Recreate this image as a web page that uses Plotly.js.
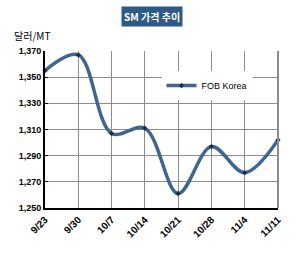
<!DOCTYPE html>
<html><head><meta charset="utf-8">
<script src="https://cdn.plot.ly/plotly-3.0.1.min.js"></script>
<style>html,body{margin:0;padding:0;background:#fff}#c{width:305px;height:253px}</style>
</head><body><div id="c"></div>
<script>
const categories = ['9/23','9/30','10/7','10/14','10/21','10/28','11/4','11/11'];
const fobKorea = [1355, 1367, 1307, 1311, 1261, 1297, 1277, 1302];
const yTicks = [1250, 1270, 1290, 1310, 1330, 1350, 1370];
const seriesName = 'FOB Korea';
const chartTitle = 'SM 가격 추이';
const yUnit = '달러/MT';

const trace = {
  x: categories, y: fobKorea, type: 'scatter', mode: 'lines+markers', name: seriesName,
  line: {color: '#3F6591', width: 3.5, shape: 'spline', smoothing: 1},
  marker: {symbol: 'diamond', size: 4, color: '#1E2E4A'},
  cliponaxis: false
};
const layout = {
  width: 305, height: 253,
  margin: {l: 45, r: 27, t: 51, b: 45},
  paper_bgcolor: '#fff', plot_bgcolor: '#fff',
  font: {family: 'Arial, Liberation Sans, sans-serif', size: 9, color: '#000'},
  showlegend: true,
  legend: {x: 0.5, y: 0.78, xanchor: 'left', yanchor: 'middle', bgcolor: '#fff',
    font: {size: 9, family: 'Arial, Liberation Sans, sans-serif'}, itemwidth: 30},
  xaxis: {type: 'category', range: [0, 7], tickangle: -45,
    tickfont: {size: 10, family: 'Arial, sans-serif', weight: 'bold'},
    showgrid: true, gridcolor: '#8c8c8c', gridwidth: 1,
    showline: true, linecolor: '#000', linewidth: 2, ticks: '', mirror: false, zeroline: false},
  yaxis: {range: [1250, 1370], tickvals: yTicks, tickformat: ',d',
    tickfont: {size: 9, family: 'Arial, sans-serif', weight: 'bold'},
    showgrid: true, gridcolor: '#8c8c8c', gridwidth: 1,
    showline: true, linecolor: '#000', linewidth: 2, ticks: 'inside', ticklen: 3, tickcolor: '#000', zeroline: false},
  shapes: [{type: 'line', xref: 'paper', yref: 'paper', x0: 1, x1: 1, y0: 0, y1: 1,
    line: {color: '#8c8c8c', width: 2}}],
  annotations: [
    {text: '<b>' + chartTitle + '</b>', xref: 'paper', yref: 'paper', x: 0.46, y: 1.22,
     xanchor: 'center', yanchor: 'middle', showarrow: false, bgcolor: '#2E5A86',
     font: {size: 10, color: '#fff', family: 'Noto Sans CJK KR, sans-serif'}, borderpad: 2},
    {text: yUnit, xref: 'paper', yref: 'paper', x: -0.14, y: 1.1, xanchor: 'left', yanchor: 'middle',
     showarrow: false, font: {size: 10, color: '#000', family: 'Noto Sans CJK KR, sans-serif'}}
  ]
};
Plotly.newPlot('c', [trace], layout, {displayModeBar: false, staticPlot: true});
</script></body></html>
